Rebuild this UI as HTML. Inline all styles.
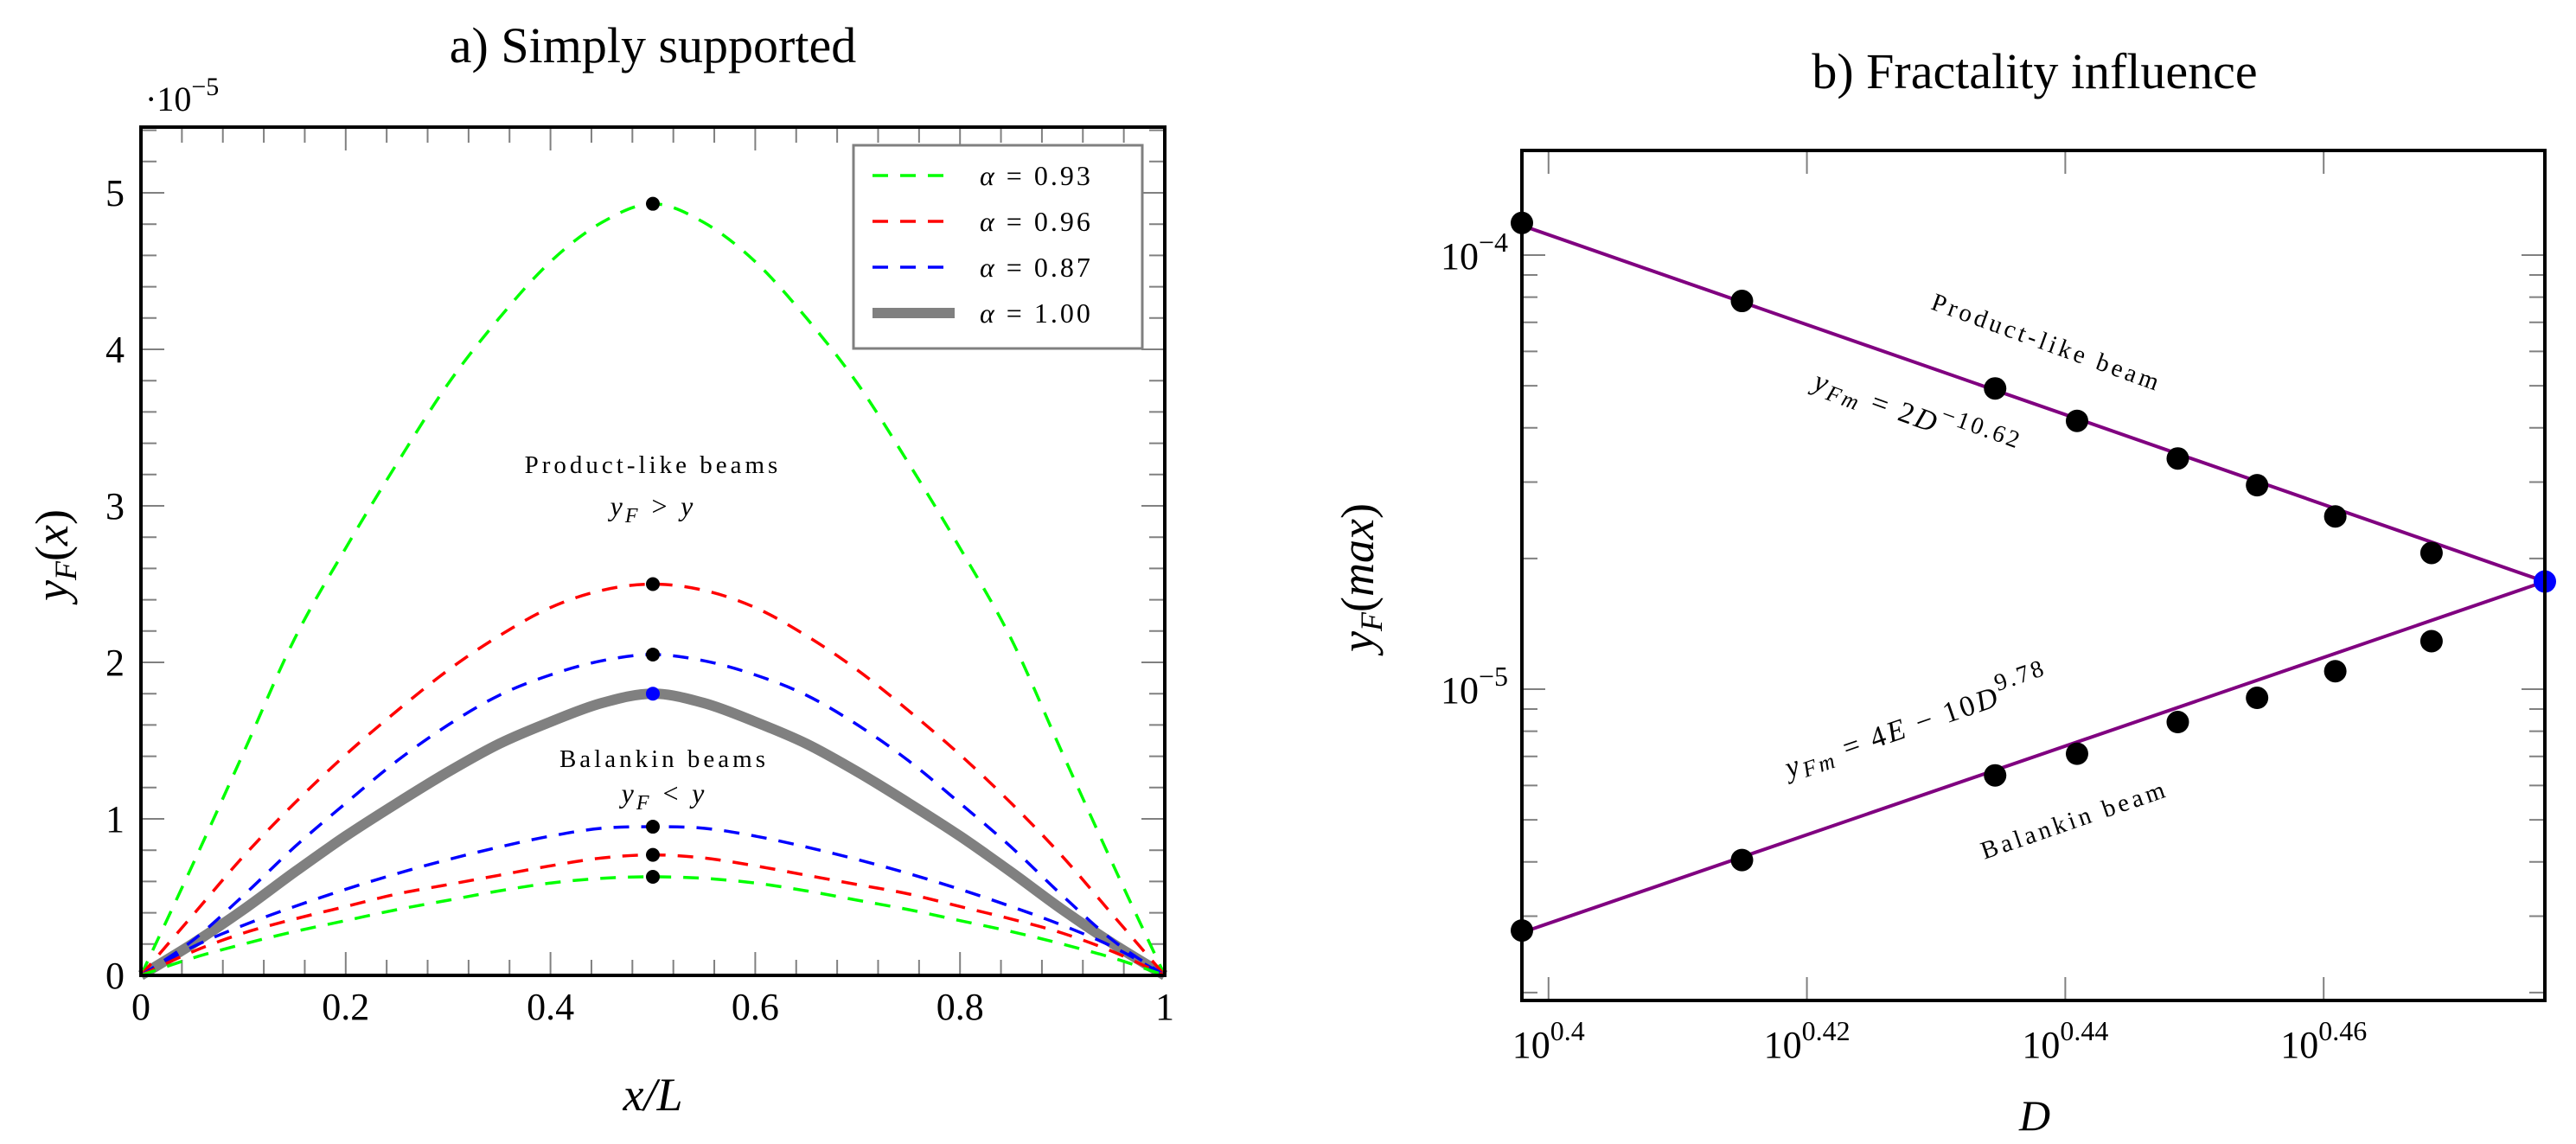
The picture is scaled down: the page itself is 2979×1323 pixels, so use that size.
<!DOCTYPE html>
<html><head><meta charset="utf-8"><style>
html,body{margin:0;padding:0;background:#fff;}
svg{display:block;font-family:"Liberation Serif",serif;}
</style></head><body>
<svg id="chart" width="2979" height="1323" viewBox="0 0 2979 1323" xmlns="http://www.w3.org/2000/svg">
<g id="left"></g>
<g id="right"></g>
</svg>
<script>
// ---- Left chart data ----
const xGrid = [0,0.05,0.1,0.15,0.2,0.25,0.3,0.35,0.4,0.45,0.5];
const greenTop = [0,0.70,1.42,2.15,2.73,3.27,3.78,4.20,4.56,4.81,4.93];
const redTop = [0,0.38,0.76,1.10,1.41,1.69,1.95,2.17,2.35,2.46,2.50];
const blueTop = [0,0.22,0.51,0.82,1.10,1.37,1.60,1.79,1.92,2.01,2.05];
const grayRef = [0,0.20,0.42,0.66,0.89,1.10,1.30,1.48,1.62,1.74,1.80];
const blueLow = [0,0.18,0.32,0.44,0.55,0.65,0.74,0.82,0.89,0.94,0.95];
const redLow = [0,0.15,0.27,0.36,0.44,0.52,0.58,0.64,0.70,0.75,0.77];
const greenLow = [0,0.11,0.20,0.28,0.35,0.42,0.48,0.54,0.59,0.62,0.63];
const peakVals = [4.93,2.50,2.05,0.95,0.77,0.63];
const refPeak = [1.80];
const yTicksL = [0,1,2,3,4,5];
const xTicksL = [0,0.2,0.4,0.6,0.8,1];
const xTickLabelsL = ["0","0.2","0.4","0.6","0.8","1"];
const legendLabels = ["0.93","0.96","0.87","1.00"];
// ---- Right chart data ----
const Dvals = [2.5,2.6,2.72,2.76,2.81,2.85,2.89,2.94];
const productVals = [1.186e-4,7.84e-5,4.93e-5,4.15e-5,3.40e-5,2.95e-5,2.50e-5,2.06e-5];
const balankinVals = [2.78e-6,4.04e-6,6.33e-6,7.1e-6,8.4e-6,9.55e-6,1.10e-5,1.29e-5];
const meetD = [3.0];
const meetVal = [1.77e-5];
const fitProduct = [[2.5,1.17e-4],[3.0,1.77e-5]];
const fitBalankin = [[2.5,2.75e-6],[3.0,1.77e-5]];
const xTickExpR = [0.4,0.42,0.44,0.46];
const yTickExpR = [-4,-5];

const NS="http://www.w3.org/2000/svg";
function mk(parent,tag,attrs){const e=document.createElementNS(NS,tag);for(const k in attrs)e.setAttribute(k,attrs[k]);parent.appendChild(e);return e;}

// ---------- LEFT ----------
const L=document.getElementById('left');
const lx0=163,lx1=1347,ly0=1128,ly1=147;
const X=v=>lx0+v*(lx1-lx0);
const Y=v=>ly0-v*181;
for(let i=0;i<=25;i++){const v=i*0.04;const len=(i%5===0)?27:18;
 let t=mk(L,'line',{x1:X(v),x2:X(v),y1:ly0,y2:ly0-len,stroke:'#808080','stroke-width':2});
 
 
 t=mk(L,'line',{x1:X(v),x2:X(v),y1:ly1,y2:ly1+len,stroke:'#808080','stroke-width':2});
 
 }
for(let i=0;i<=27;i++){const v=i*0.2;const len=(i%5===0)?27:18;
 let t=mk(L,'line',{x1:lx0,x2:lx0+len,y1:Y(v),y2:Y(v),stroke:'#808080','stroke-width':2});
 
 
 t=mk(L,'line',{x1:lx1,x2:lx1-len,y1:Y(v),y2:Y(v),stroke:'#808080','stroke-width':2});
 
 }
function smoothPath(P){
 let d='M'+P[0][0]+','+P[0][1];
 for(let i=0;i<P.length-1;i++){
  const p0=P[Math.max(0,i-1)],p1=P[i],p2=P[i+1],p3=P[Math.min(P.length-1,i+2)];
  const c1x=p1[0]+(p2[0]-p0[0])/6,c1y=p1[1]+(p2[1]-p0[1])/6;
  const c2x=p2[0]-(p3[0]-p1[0])/6,c2y=p2[1]-(p3[1]-p1[1])/6;
  d+=' C'+c1x+','+c1y+' '+c2x+','+c2y+' '+p2[0]+','+p2[1];}
 return d;}
function curve(vals,color,dash,w,name){
 const pts=[];xGrid.forEach((x,i)=>pts.push([x,vals[i]]));
 for(let i=xGrid.length-2;i>=0;i--)pts.push([1-xGrid[i],vals[i]]);
 const P=pts.map(p=>[X(p[0]),Y(p[1])]);
 const p=mk(L,'path',{d:smoothPath(P),fill:'none',stroke:color,'stroke-width':w,'stroke-dasharray':dash,'stroke-linejoin':'round'});
 
 }
curve(grayRef,'#808080','none',12,'curve-alpha-1.00');
curve(greenTop,'#00ff00','18 14',3.5,'curve-alpha-0.93-product');
curve(redTop,'#ff0000','18 14',3.5,'curve-alpha-0.96-product');
curve(blueTop,'#0000ff','18 14',3.5,'curve-alpha-0.87-product');
curve(blueLow,'#0000ff','18 14',3.5,'curve-alpha-0.87-balankin');
curve(redLow,'#ff0000','18 14',3.5,'curve-alpha-0.96-balankin');
curve(greenLow,'#00ff00','18 14',3.5,'curve-alpha-0.93-balankin');
peakVals.forEach(v=>{const c=mk(L,'circle',{cx:X(0.5),cy:Y(v),r:8,fill:'#000'});
 
 });
refPeak.forEach(v=>{const c=mk(L,'circle',{cx:X(0.5),cy:Y(v),r:8,fill:'#0000ff'});
 
 });
let fr=mk(L,'rect',{x:lx0,y:ly1,width:lx1-lx0,height:ly0-ly1,fill:'none',stroke:'#000','stroke-width':4});


yTicksL.forEach(v=>{const t=mk(L,'text',{x:133,y:Y(v)+15,'font-size':44,'text-anchor':'middle'});t.textContent=String(v);
 
 });
xTicksL.forEach((v,i)=>{const t=mk(L,'text',{x:X(v),y:1179,'font-size':44,'text-anchor':'middle'});t.textContent=xTickLabelsL[i];
 
 });
let lg=mk(L,'rect',{x:987,y:168,width:334,height:235,fill:'#fff',stroke:'#808080','stroke-width':3});


const legColors=['#00ff00','#ff0000','#0000ff','#808080'];
legendLabels.forEach((lab,i)=>{const y=203+i*53;
 const ln=mk(L,'line',{x1:1009,x2:1104,y1:y,y2:y,stroke:legColors[i],'stroke-width':i===3?12:3.5,'stroke-dasharray':i===3?'none':'18 14'});
 
 
 const t=mk(L,'text',{x:1133,y:y+11,'font-size':32,'letter-spacing':'3'});
 t.innerHTML='<tspan font-style="italic">α</tspan> = '+lab;
 
 });
</script>
<script>
(function(){
const L=document.getElementById('left');
L.insertAdjacentHTML('beforeend',
'<text x="755" y="72" font-size="58" text-anchor="middle">a) Simply supported</text>'+
'<text x="168" y="128" font-size="40">·10<tspan dy="-18" font-size="30">−5</tspan></text>'+
'<text x="755" y="547" font-size="29" letter-spacing="4" text-anchor="middle">Product-like beams</text>'+
'<text x="755" y="596" font-size="32" letter-spacing="3" text-anchor="middle" font-style="italic">y<tspan dy="8" font-size="24">F</tspan><tspan dy="-8"> &gt; y</tspan></text>'+
'<text x="768" y="887" font-size="29" letter-spacing="4" text-anchor="middle">Balankin beams</text>'+
'<text x="768" y="928" font-size="32" letter-spacing="3" text-anchor="middle" font-style="italic">y<tspan dy="8" font-size="24">F</tspan><tspan dy="-8"> &lt; y</tspan></text>'+
'<text x="755" y="1284" font-size="54" text-anchor="middle" font-style="italic">x/L</text>'+
'<text transform="translate(78,642) rotate(-90)" font-size="54" text-anchor="middle" font-style="italic">y<tspan dy="10" font-size="36">F</tspan><tspan dy="-10" font-style="normal">(</tspan>x<tspan font-style="normal">)</tspan></text>');
})();
(function(){
const R=document.getElementById('right');
const rx0=1760,rx1=2943,ry0=1157,ry1=174;
const lmin=Math.log10(2.5),lmax=Math.log10(3);
const RX=d=>rx0+(Math.log10(d)-lmin)/(lmax-lmin)*(rx1-rx0);
const RXe=e=>rx0+(e-lmin)/(lmax-lmin)*(rx1-rx0);
const RY=v=>295-(Math.log10(v)+4)*502;
xTickExpR.forEach(e=>{
 let t=mk(R,'line',{x1:RXe(e),x2:RXe(e),y1:ry0,y2:ry0-27,stroke:'#808080','stroke-width':2});
 
 
 t=mk(R,'line',{x1:RXe(e),x2:RXe(e),y1:ry1,y2:ry1+27,stroke:'#808080','stroke-width':2});
 
 
 const lb=mk(R,'text',{x:RXe(e),y:1223,'font-size':44,'text-anchor':'middle'});
 lb.innerHTML='10<tspan dy="-20" font-size="32">'+e+'</tspan>';
 
 });
for(let dec=-6;dec<=-4;dec++){for(let k=1;k<=9;k++){const v=k*Math.pow(10,dec);const y=RY(v);
 if(y<ry1+2||y>ry0-2)continue;const len=k===1?27:18;
 let t=mk(R,'line',{x1:rx0,x2:rx0+len,y1:y,y2:y,stroke:'#808080','stroke-width':2});
 
 
 t=mk(R,'line',{x1:rx1,x2:rx1-len,y1:y,y2:y,stroke:'#808080','stroke-width':2});
 
 }}
yTickExpR.forEach(e=>{const lb=mk(R,'text',{x:1744,y:RY(Math.pow(10,e))+16,'font-size':44,'text-anchor':'end'});
 lb.innerHTML='10<tspan dy="-20" font-size="32">−'+Math.abs(e)+'</tspan>';
 
 });
[[fitProduct,'product-fit-line'],[fitBalankin,'balankin-fit-line']].forEach(([f,n])=>{
 const l=mk(R,'line',{x1:RX(f[0][0]),y1:RY(f[0][1]),x2:RX(f[1][0]),y2:RY(f[1][1]),stroke:'#800080','stroke-width':4});
 
 });
Dvals.forEach((d,i)=>{
 let c=mk(R,'circle',{cx:RX(d),cy:RY(productVals[i]),r:13,fill:'#000'});
 
 
 c=mk(R,'circle',{cx:RX(d),cy:RY(balankinVals[i]),r:13,fill:'#000'});
 
 });
meetD.forEach((d,i)=>{const c=mk(R,'circle',{cx:RX(d),cy:RY(meetVal[i]),r:13,fill:'#0000ff'});
 
 });
const f=mk(R,'rect',{x:rx0,y:ry1,width:rx1-rx0,height:ry0-ry1,fill:'none',stroke:'#000','stroke-width':4});


R.insertAdjacentHTML('beforeend',
'<text x="2353" y="102" font-size="58" text-anchor="middle">b) Fractality influence</text>'+
'<text x="2353" y="1307" font-size="50" text-anchor="middle" font-style="italic">D</text>'+
'<text transform="translate(1588,668) rotate(-90)" font-size="54" text-anchor="middle" font-style="italic">y<tspan dy="10" font-size="36">F</tspan><tspan dy="-10" font-style="normal">(</tspan>max<tspan font-style="normal">)</tspan></text>'+
'<text transform="translate(2364,405) rotate(20)" font-size="29" letter-spacing="4" text-anchor="middle">Product-like beam</text>'+
'<text transform="translate(2212,492) rotate(20)" font-size="34" letter-spacing="3" text-anchor="middle" font-style="italic">y<tspan dy="6" font-size="26">Fm</tspan><tspan dy="-6" font-style="normal"> = 2</tspan>D<tspan dy="-16" font-size="28" font-style="normal">−10.62</tspan></text>'+
'<text transform="translate(2221,847) rotate(-19)" font-size="34" letter-spacing="3" text-anchor="middle" font-style="italic">y<tspan dy="6" font-size="26">Fm</tspan><tspan dy="-6" font-style="normal"> = 4</tspan>E<tspan font-style="normal"> − 10</tspan>D<tspan dy="-16" font-size="28" font-style="normal">9.78</tspan></text>'+
'<text transform="translate(2402,957) rotate(-19)" font-size="29" letter-spacing="4" text-anchor="middle">Balankin beam</text>');
})();
</script>
</body></html>
